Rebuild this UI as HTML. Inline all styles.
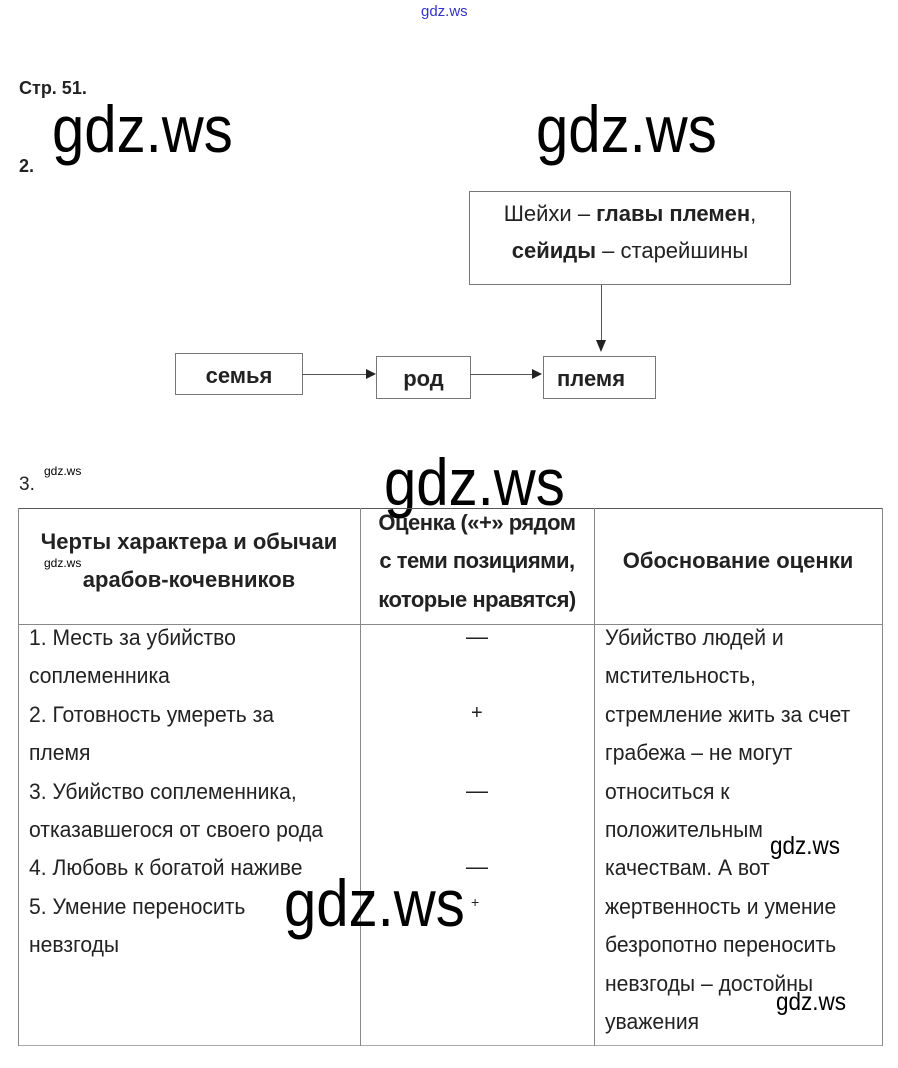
<!DOCTYPE html>
<html><head><meta charset="utf-8"><style>
body{margin:0;width:898px;height:1068px;background:#fff;position:relative;overflow:hidden;font-family:"Liberation Sans",sans-serif;color:#222}
.a{position:absolute;white-space:nowrap}
.wm{position:absolute;font-family:"Liberation Sans",sans-serif;color:#000;font-size:66px;line-height:1;transform:scaleX(0.88);transform-origin:0 0}
.box{position:absolute;border:1px solid #777;background:#fff}
.t{font-size:22px;line-height:22px}
.s{transform:scaleX(0.96);transform-origin:0 0}
.b{font-weight:bold}
.line{position:absolute;background:#555}
</style></head><body>
<div class="a" style="left:421px;top:3px;font-size:15px;color:#33c">gdz.ws</div>
<div class="a b" style="left:19px;top:78px;font-size:18px">Стр. 51.</div>
<div class="a b" style="left:19px;top:156px;font-size:18px">2.</div>
<div class="wm" style="left:52px;top:96px">gdz.ws</div>
<div class="wm" style="left:536px;top:96px">gdz.ws</div>

<div class="box" style="left:469px;top:191px;width:320px;height:92px"></div>
<div class="a t" style="left:469px;top:203px;width:322px;text-align:center">Шейхи – <b>главы племен</b>,</div>
<div class="a t" style="left:469px;top:240px;width:322px;text-align:center"><b>сейиды</b> – старейшины</div>
<div class="line" style="left:601px;top:285px;width:1px;height:58px"></div>
<div class="a" style="left:596px;top:340px;width:0;height:0;border-left:5px solid transparent;border-right:5px solid transparent;border-top:12px solid #222"></div>

<div class="box" style="left:175px;top:353px;width:126px;height:40px"></div>
<div class="a t b" style="left:175px;top:365px;width:128px;text-align:center">семья</div>
<div class="box" style="left:376px;top:356px;width:93px;height:41px"></div>
<div class="a t b" style="left:376px;top:368px;width:95px;text-align:center">род</div>
<div class="box" style="left:543px;top:356px;width:111px;height:41px"></div>
<div class="a t b" style="left:557px;top:368px">племя</div>
<div class="line" style="left:302px;top:374px;width:66px;height:1px"></div>
<div class="a" style="left:366px;top:369px;border-top:5px solid transparent;border-bottom:5px solid transparent;border-left:10px solid #222"></div>
<div class="line" style="left:470px;top:374px;width:64px;height:1px"></div>
<div class="a" style="left:532px;top:369px;border-top:5px solid transparent;border-bottom:5px solid transparent;border-left:10px solid #222"></div>

<div class="a" style="left:19px;top:474px;font-size:19px">3.</div>
<div class="a" style="left:44px;top:464px;font-size:12px;color:#000">gdz.ws</div>
<div class="wm" style="left:384px;top:449px">gdz.ws</div>

<div class="line" style="left:18px;top:508px;width:864px;height:1px"></div>
<div class="line" style="left:18px;top:624px;width:864px;height:1px;background:#888"></div>
<div class="line" style="left:18px;top:1045px;width:864px;height:1px;background:#aaa"></div>
<div class="line" style="left:18px;top:508px;width:1px;height:538px;background:#888"></div>
<div class="line" style="left:360px;top:508px;width:1px;height:538px;background:#888"></div>
<div class="line" style="left:594px;top:508px;width:1px;height:538px;background:#888"></div>
<div class="line" style="left:882px;top:508px;width:1px;height:538px;background:#888"></div>

<div class="a t b" style="left:18px;top:531px;width:342px;text-align:center">Черты характера и обычаи</div>
<div class="a" style="left:44px;top:556px;font-size:12px;color:#000">gdz.ws</div>
<div class="a t b" style="left:18px;top:569px;width:342px;text-align:center">арабов-кочевников</div>
<div class="a t b" style="left:360px;top:512px;width:234px;text-align:center;letter-spacing:-0.5px">Оценка («+» рядом</div>
<div class="a t b" style="left:360px;top:550px;width:234px;text-align:center;letter-spacing:-0.5px">с теми позициями,</div>
<div class="a t b" style="left:360px;top:589px;width:234px;text-align:center;letter-spacing:-0.5px">которые нравятся)</div>
<div class="a t b" style="left:594px;top:550px;width:288px;text-align:center">Обоснование оценки</div>

<div class="a s" style="left:29px;top:619px;font-size:22px;line-height:38.4px">1. Месть за убийство<br>соплеменника<br>2. Готовность умереть за<br>племя<br>3. Убийство соплеменника,<br>отказавшегося от своего рода<br>4. Любовь к богатой наживе<br>5. Умение переносить<br>невзгоды</div>
<div class="a s" style="left:605px;top:619px;font-size:22px;line-height:38.4px">Убийство людей и<br>мстительность,<br>стремление жить за счет<br>грабежа – не могут<br>относиться к<br>положительным<br>качествам. А вот<br>жертвенность и умение<br>безропотно переносить<br>невзгоды – достойны<br>уважения</div>

<div class="a" style="left:466px;top:624px;font-size:22px">—</div>
<div class="a" style="left:471px;top:702px;font-size:20px">+</div>
<div class="a" style="left:466px;top:778px;font-size:22px">—</div>
<div class="a" style="left:466px;top:854px;font-size:22px">—</div>
<div class="a" style="left:471px;top:894px;font-size:14px">+</div>

<div class="wm" style="left:284px;top:870px">gdz.ws</div>
<div class="a" style="left:770px;top:832px;font-size:25px;color:#000;transform:scaleX(0.9);transform-origin:0 0">gdz.ws</div>
<div class="a" style="left:776px;top:988px;font-size:25px;color:#000;transform:scaleX(0.9);transform-origin:0 0">gdz.ws</div>
</body></html>
